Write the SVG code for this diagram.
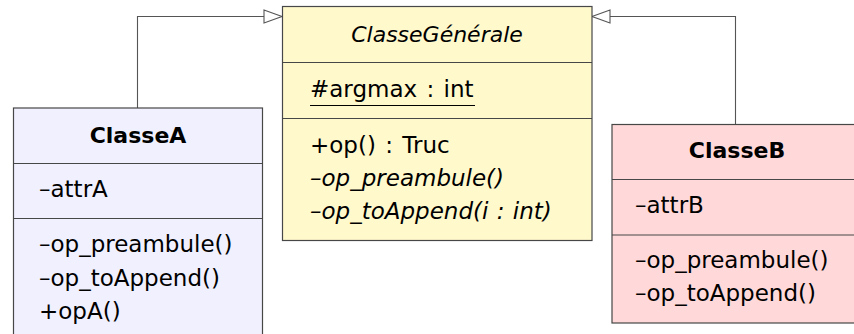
<svg xmlns="http://www.w3.org/2000/svg" width="854" height="334" viewBox="0 0 854 334">
  <style>
    .box { stroke: #474747; stroke-width: 1.2; }
    .sep { stroke: #474747; stroke-width: 1.2; fill: none; }
    .link { stroke: #555555; stroke-width: 1.1; fill: none; }
    .head { stroke: #555555; stroke-width: 1.1; fill: #ffffff; }
    text { font-family: "DejaVu Sans", "Liberation Sans", sans-serif; font-size: 23px; fill: #000000; }
    .title { font-size: 22px; font-weight: bold; text-anchor: middle; }
    .abstract { font-style: italic; }
    .center { font-size: 22px; text-anchor: middle; }
  </style>

  <rect width="854" height="334" fill="#ffffff"/>

  <!-- generalisation links -->
  <g id="connectors">
    <polyline class="link" points="137.5,108 137.5,16.5 264,16.5"/>
    <polygon class="head" points="264,10 282,16.5 264,23"/>
    <polyline class="link" points="735.5,124.5 735.5,16.5 610,16.5"/>
    <polygon class="head" points="610,10 592,16.5 610,23"/>
  </g>

  <!-- abstract base class -->
  <g id="ClasseGenerale">
    <rect class="box" x="282.5" y="6.5" width="309.5" height="234" fill="#fff9cc"/>
    <line class="sep" x1="282.5" y1="62.5" x2="592" y2="62.5"/>
    <line class="sep" x1="282.5" y1="118.5" x2="592" y2="118.5"/>
    <text class="abstract center" x="437" y="42">ClasseGénérale</text>
    <text x="310" y="97" word-spacing="2">#argmax : int</text>
    <line x1="310" y1="105.5" x2="475" y2="105.5" stroke="#000000" stroke-width="1.2"/>
    <text x="310" y="153" word-spacing="2">+op() : Truc</text>
    <text class="abstract" x="310" y="186">–op_preambule()</text>
    <text class="abstract" x="310" y="219" word-spacing="1">–op_toAppend(i : int)</text>
  </g>

  <!-- first subclass -->
  <g id="ClasseA">
    <rect class="box" x="13.5" y="108" width="249" height="240" fill="#f0f0ff"/>
    <line class="sep" x1="13.5" y1="163.5" x2="262.5" y2="163.5"/>
    <line class="sep" x1="13.5" y1="218.5" x2="262.5" y2="218.5"/>
    <text class="title" x="138" y="143">ClasseA</text>
    <text x="39" y="197">–attrA</text>
    <text x="39" y="252">–op_preambule()</text>
    <text x="39" y="286">–op_toAppend()</text>
    <text x="39" y="319">+opA()</text>
  </g>

  <!-- second subclass -->
  <g id="ClasseB">
    <rect class="box" x="612" y="124.5" width="250" height="198.5" fill="#ffd9d9"/>
    <line class="sep" x1="612" y1="179.5" x2="862" y2="179.5"/>
    <line class="sep" x1="612" y1="235" x2="862" y2="235"/>
    <text class="title" x="737" y="158">ClasseB</text>
    <text x="635" y="213">–attrB</text>
    <text x="635" y="268">–op_preambule()</text>
    <text x="635" y="301">–op_toAppend()</text>
  </g>
</svg>
